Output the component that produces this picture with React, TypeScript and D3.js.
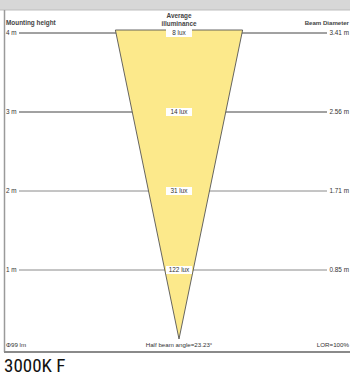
import React from "react";
import * as d3 from "d3";

const heights = [4, 3, 2, 1];
const luxValues = [8, 14, 31, 122];
const diameters = [3.41, 2.56, 1.71, 0.85];
const heightLabels = ["4 m", "3 m", "2 m", "1 m"];
const luxLabels = luxValues.map((v) => `${v} lux`);
const diameterLabels = diameters.map((v) => `${v.toFixed(2)} m`);
const footerLeft = "Φ99 lm";
const footerMid = "Half beam angle=23.23°";
const footerRight = "LOR=100%";
const caption = "3000K F";

const W = 350;
const H = 376;
const cx = 179;
const font = "'Liberation Sans', Arial, sans-serif";

export default function App() {
  const y = d3.scaleLinear().domain([0, 4]).range([349, 33]);
  const x = d3.scaleLinear().domain([0, 3.41]).range([0, 126]);
  const apexY = 339;
  const topY = 30;
  const topIdx = 0;
  const slope = x(diameters[topIdx]) / 2 / (apexY - y(heights[topIdx]));
  const topHalf = slope * (apexY - topY);
  const cone = d3.line()([
    [cx, apexY],
    [cx - topHalf, topY],
    [cx + topHalf, topY],
  ]) + "Z";

  return (
    <svg width={W} height={H} style={{ position: "absolute", left: 0, top: 0 }} fontFamily={font}>
      <rect x={0} y={0} width={W} height={H} fill="#fff" />
      <rect x={0} y={0} width={W} height={10} fill="#d7d7d7" />
      <line x1={0} x2={W} y1={10} y2={10} stroke="#bdbdbd" />
      <line x1={4.5} x2={4.5} y1={10} y2={352} stroke="#9a9a9a" strokeWidth={1.5} />
      <line x1={4} x2={W} y1={352} y2={352} stroke="#8a8a8a" strokeWidth={2} />

      <text x={6} y={25} fontSize={6.4} fill="#444" fontWeight="bold">Mounting height</text>
      <text x={cx} y={18} fontSize={6.4} fill="#444" fontWeight="bold" textAnchor="middle">Average</text>
      <text x={cx} y={25.5} fontSize={6.4} fill="#444" fontWeight="bold" textAnchor="middle">illuminance</text>
      <text x={349} y={25} fontSize={6.1} fill="#444" fontWeight="bold" textAnchor="end">Beam Diameter</text>

      {heights.map((h, i) => (
        <g key={"row" + i}>
          <line x1={19} x2={327} y1={y(h)} y2={y(h)} stroke={i < 2 ? "#444" : "#8a8a8a"} strokeWidth={1} />
          <text x={6} y={y(h) + 2.2} fontSize={6.4} fill="#333">{heightLabels[i]}</text>
          <text x={349} y={y(h) + 2.2} fontSize={6.4} fill="#333" textAnchor="end">{diameterLabels[i]}</text>
        </g>
      ))}

      <path d={cone} fill="#fce98b" stroke="#555" strokeWidth={0.9} />

      {heights.map((h, i) => (
        <g key={"lux" + i}>
          <rect x={cx - 13} y={y(h) - 4} width={26} height={8} fill="#fff" />
          <text x={cx} y={y(h) + 2.2} fontSize={6.4} fill="#333" textAnchor="middle">{luxLabels[i]}</text>
        </g>
      ))}

      <text x={6} y={347} fontSize={6.2} fill="#333">{footerLeft}</text>
      <text x={cx} y={347} fontSize={6.2} fill="#333" textAnchor="middle">{footerMid}</text>
      <text x={349} y={347} fontSize={6.2} fill="#333" textAnchor="end">{footerRight}</text>

      <text x={4} y={372} fontSize={19} fill="#111" fontFamily="'Liberation Sans Narrow', 'Roboto Condensed', Arial, sans-serif">{caption}</text>
    </svg>
  );
}
